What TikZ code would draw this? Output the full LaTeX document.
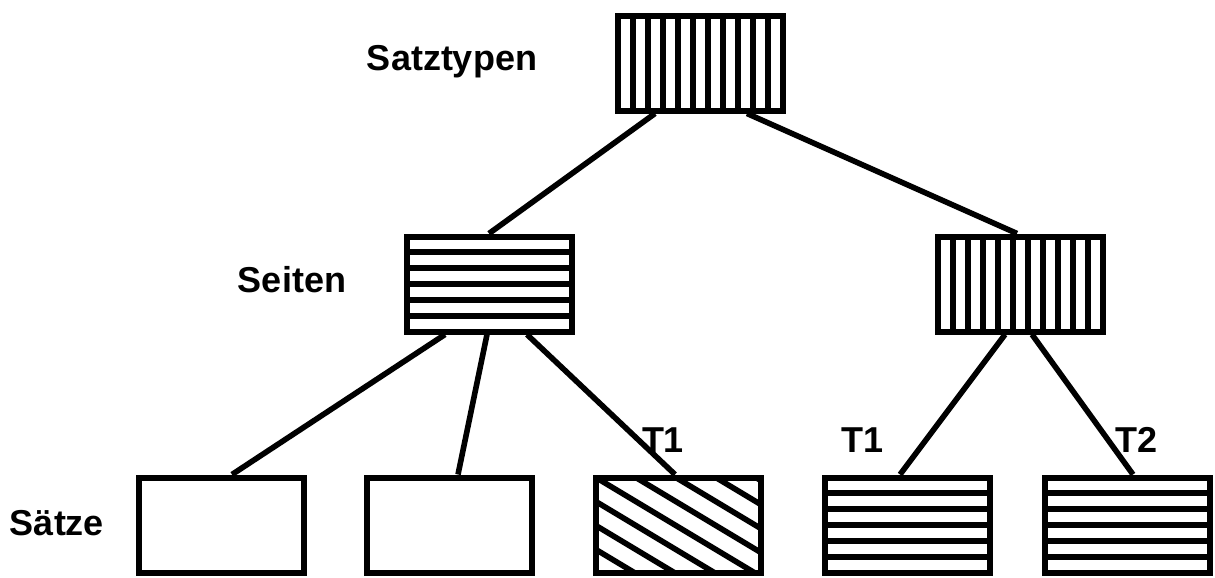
\documentclass[tikz,border=0pt]{standalone}
\usepackage{fontspec}
\setmainfont{Liberation Sans}
\usetikzlibrary{calc, positioning}
\tikzset{
    box/.style = {draw, line width = 3pt, minimum width = 82.5pt, minimum height = 47.5pt, inner sep = 0pt},
    vstripes/.style = {box, path picture = {
        \foreach \i in {1,...,10}
            \draw[line width = 3pt] ($(path picture bounding box.south west)!\i/11!(path picture bounding box.south east)$) -- ($(path picture bounding box.north west)!\i/11!(path picture bounding box.north east)$);
    }},
    hstripes/.style = {box, path picture = {
        \foreach \i in {1,...,5}
            \draw[line width = 3pt] ($(path picture bounding box.south west)!\i/6!(path picture bounding box.north west)$) -- ($(path picture bounding box.south east)!\i/6!(path picture bounding box.north east)$);
    }},
    hatch/.style = {box, path picture = {
        \foreach \k in {-6,...,6}
            \draw[line width = 2.8pt] ($(path picture bounding box.center)+(\k*40-253,-150)$) -- ++(500,300);
    }},
    conn/.style = {line width = 2.8pt},
    lbl/.style = {font = \fontsize{18}{20}\selectfont\bfseries, inner sep = 0pt}
}

\begin{document}
\begin{tikzpicture}[x = 0.5pt, y = -0.5pt]
    \useasboundingbox (0,0) rectangle (1215,578);
    % Satztypen
    \node[vstripes] (typen) at (700,63) {};
    % Seiten
    \node[hstripes] (seiten) at (489,284) {};
    \node[vstripes] (rechts) at (1020,284) {};
    % Saetze
    \node[box] (satz1) at (221,525) {};
    \node[box] (satz2) at (449,525) {};
    \node[hatch] (satz3) at (678,525) {};
    \node[hstripes] (satz4) at (907,525) {};
    \node[hstripes] (satz5) at (1127,525) {};
    % Kanten
    \draw[conn] ([xshift = -22.5pt]typen.south) -- (seiten.north);
    \draw[conn] ([xshift = 23.5pt]typen.south) -- ([xshift = -1.5pt]rechts.north);
    \draw[conn] ([xshift = -22pt]seiten.south) -- ([xshift = 5.5pt]satz1.north);
    \draw[conn] ([xshift = -1pt]seiten.south) -- ([xshift = 4.5pt]satz2.north);
    \draw[conn] ([xshift = 19pt]seiten.south) -- ([xshift = -1.5pt]satz3.north);
    \draw[conn] ([xshift = -7.5pt]rechts.south) -- ([xshift = -3.5pt]satz4.north);
    \draw[conn] ([xshift = 6pt]rechts.south) -- ([xshift = 3pt]satz5.north);
    % Beschriftungen
    \node[lbl] (lbltypen) at (452,62) {Satztypen};
    \node[lbl] (lblseiten) at (292,280) {Seiten};
    \node[lbl] (lblsaetze) at (57,523) {Sätze};
    \node[lbl] (lbla) at (663,440) {T1};
    \node[lbl] (lblb) at (862,440) {T1};
    \node[lbl] (lblc) at (1136,440) {T2};
\end{tikzpicture}
\end{document}
